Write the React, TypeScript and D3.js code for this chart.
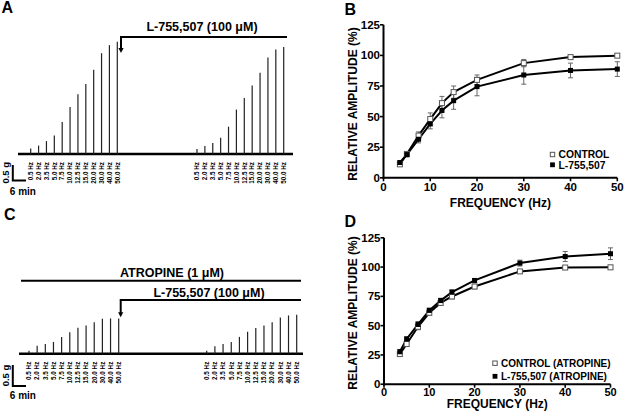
import React from "react";
import * as d3 from "d3";

// ---------- DATA ----------
const freqLabels = ["0.5 Hz", "2.0 Hz", "3.5 Hz", "5.0 Hz", "7.5 Hz", "10.0 Hz", "12.5 Hz", "15.0 Hz", "20.0 Hz", "30.0 Hz", "40.0 Hz", "50.0 Hz"];

// Panel A traces: contraction amplitudes (g)
const aControl = [0.18, 0.28, 0.43, 0.62, 1.07, 1.57, 1.99, 2.33, 2.81, 3.36, 3.63, 3.74];
const aDrug = [0.17, 0.27, 0.37, 0.54, 0.91, 1.48, 1.87, 2.28, 2.71, 3.22, 3.48, 3.57];
// Panel C traces (atropine)
const cControl = [0.07, 0.19, 0.23, 0.28, 0.4, 0.51, 0.62, 0.67, 0.75, 0.83, 0.84, 0.84];
const cDrug = [0.07, 0.18, 0.23, 0.28, 0.4, 0.52, 0.61, 0.67, 0.75, 0.86, 0.91, 0.93];

// Frequency-response curves
const freqs = [3.5, 5, 7.5, 10, 12.5, 15, 20, 30, 40, 50];
const bControl = [11, 19.5, 34.5, 48, 61, 70, 80, 93.7, 98.6, 99.8];
const bControlErr = [1, 1.5, 3, 5, 5.5, 5, 4, 3, 1.2, 0.5];
const bDrug = [12.5, 19, 31.5, 44, 55, 63, 74.5, 84, 87.7, 88.8];
const bDrugErr = [1.5, 2, 3, 4, 6, 7, 7.5, 7.5, 6, 6];
const dControl = [25.7, 34.3, 49, 61, 69.4, 74.9, 83.4, 96.3, 99.6, 99.8];
const dControlErr = [1.5, 2, 2.5, 2, 2, 2, 2, 1.5, 0.8, 0.5];
const dDrug = [27.7, 38.6, 51, 63, 71.4, 78.6, 88.6, 103.4, 109, 111.4];
const dDrugErr = [2, 2, 2.5, 2, 2, 2, 1.5, 2.5, 4.3, 5];
const yTicks = [0, 25, 50, 75, 100, 125];
const xTicks = [0, 10, 20, 30, 40, 50];

const FONT = "'Liberation Sans', Arial, Helvetica, sans-serif";

type TraceProps = {
  baseY: number;
  x0: number;
  x1: number;
  g1: [number, number];
  g2: [number, number];
  h1: number[];
  h2: number[];
  pxPerHalfGram: number;
  labelTop: number;
};

function Trace({ baseY, x0, x1, g1, g2, h1, h2, pxPerHalfGram, labelTop }: TraceProps) {
  const yS = d3.scaleLinear().domain([0, 0.5]).range([baseY, baseY - pxPerHalfGram]);
  const s1 = d3.scalePoint<string>().domain(freqLabels).range(g1);
  const s2 = d3.scalePoint<string>().domain(freqLabels).range(g2);
  const groups = [
    { s: s1, h: h1 },
    { s: s2, h: h2 },
  ];
  return (
    <g>
      <line x1={x0} x2={x1} y1={baseY} y2={baseY} stroke="#000" strokeWidth={2.4} />
      {groups.map((grp, gi) =>
        freqLabels.map((lab, i) => {
          const x = grp.s(lab) as number;
          return (
            <g key={`${gi}-${i}`}>
              <line x1={x} x2={x} y1={baseY} y2={yS(grp.h[i])} stroke="#222" strokeWidth={1.2} />
              <text
                transform={`translate(${x + 2.3},${labelTop}) rotate(-90)`}
                textAnchor="end"
                fontSize={6.3}
                fontWeight="bold"
                fontFamily={FONT}
              >
                {lab}
              </text>
            </g>
          );
        })
      )}
    </g>
  );
}

function ScaleBar({ x, yTop, yBot, xEnd, textY }: { x: number; yTop: number; yBot: number; xEnd: number; textY: number }) {
  return (
    <g fontFamily={FONT} fontWeight="bold">
      <path d={`M${x},${yTop}V${yBot}H${xEnd}`} fill="none" stroke="#000" strokeWidth={2} />
      <text transform={`translate(${x - 4},${(yTop + yBot) / 2}) rotate(-90)`} textAnchor="middle" fontSize={9.5}>
        0.5 g
      </text>
      <text x={x - 3} y={textY} fontSize={10}>
        6 min
      </text>
    </g>
  );
}

function Arrow({ x, yTop, yTip, xEnd }: { x: number; yTop: number; yTip: number; xEnd: number }) {
  return (
    <g>
      <path d={`M${xEnd},${yTop}H${x}V${yTip - 4}`} fill="none" stroke="#000" strokeWidth={2} />
      <path d={`M${x - 2.6},${yTip - 5}L${x + 2.6},${yTip - 5}L${x},${yTip}Z`} fill="#000" />
    </g>
  );
}

type CurveProps = {
  x: d3.ScaleLinear<number, number>;
  y: d3.ScaleLinear<number, number>;
  ctrl: number[];
  ctrlErr: number[];
  drug: number[];
  drugErr: number[];
  legend: [string, string];
  legX: number;
  legY: [number, number];
  legFont: number;
  titleX: number;
  titleY: number;
  xTitleY: number;
  tickLabelDy: number;
  tickFont: number;
};

function Curves({ x, y, ctrl, ctrlErr, drug, drugErr, legend, legX, legY, legFont, titleX, titleY, xTitleY, tickLabelDy, tickFont }: CurveProps) {
  const line = d3
    .line<number>()
    .x((_, i) => x(freqs[i]))
    .y((d) => y(d));
  const [x0, x1] = x.range();
  const [y0, y1] = y.range();
  const ms = 5;
  const errBars = (vals: number[], errs: number[]) =>
    vals.map((v, i) => {
      const cx = x(freqs[i]);
      const hi = y(v + errs[i]);
      const lo = y(v - errs[i]);
      return (
        <g key={i} stroke="#666" strokeWidth={1}>
          <line x1={cx} x2={cx} y1={hi} y2={lo} />
          <line x1={cx - 2.5} x2={cx + 2.5} y1={hi} y2={hi} />
          <line x1={cx - 2.5} x2={cx + 2.5} y1={lo} y2={lo} />
        </g>
      );
    });
  return (
    <g fontFamily={FONT} fontWeight="bold">
      {errBars(ctrl, ctrlErr)}
      {errBars(drug, drugErr)}
      <path d={line(ctrl) || ""} fill="none" stroke="#000" strokeWidth={2} />
      <path d={line(drug) || ""} fill="none" stroke="#000" strokeWidth={2} />
      {ctrl.map((v, i) => (
        <rect key={`c${i}`} x={x(freqs[i]) - ms / 2} y={y(v) - ms / 2} width={ms} height={ms} fill="#fff" stroke="#555" strokeWidth={1} />
      ))}
      {drug.map((v, i) => (
        <rect key={`d${i}`} x={x(freqs[i]) - ms / 2} y={y(v) - ms / 2} width={ms} height={ms} fill="#000" />
      ))}
      {/* axes */}
      <line x1={x0} x2={x0} y1={y0 + 1} y2={y1} stroke="#000" strokeWidth={2} />
      <line x1={x0 - 1} x2={x1} y1={y0} y2={y0} stroke="#000" strokeWidth={2} />
      {yTicks.map((t) => (
        <g key={`yt${t}`}>
          <line x1={x0 - 3.5} x2={x0} y1={y(t)} y2={y(t)} stroke="#000" strokeWidth={1.6} />
          <text x={x0 - 3.5} y={y(t) + 4} textAnchor="end" fontSize={11.5}>
            {t}
          </text>
        </g>
      ))}
      {xTicks.map((t) => (
        <g key={`xt${t}`}>
          <line x1={x(t)} x2={x(t)} y1={y0} y2={y0 + 3.5} stroke="#000" strokeWidth={1.6} />
          <text x={x(t)} y={y0 + tickLabelDy} textAnchor="middle" fontSize={tickFont}>
            {t}
          </text>
        </g>
      ))}
      <text transform={`translate(${titleX},${titleY}) rotate(-90)`} textAnchor="middle" fontSize={12}>
        RELATIVE AMPLITUDE (%)
      </text>
      <text x={(x0 + x1) / 2} y={xTitleY} textAnchor="middle" fontSize={12}>
        FREQUENCY (Hz)
      </text>
      {/* legend */}
      <rect x={legX - 2.2} y={legY[0] - 2.2} width={4.4} height={4.4} fill="#fff" stroke="#555" strokeWidth={1} />
      <text x={legX + 6} y={legY[0] + 3.7} fontSize={legFont}>
        {legend[0]}
      </text>
      <rect x={legX - 2.4} y={legY[1] - 2.4} width={4.8} height={4.8} fill="#000" />
      <text x={legX + 6} y={legY[1] + 3.7} fontSize={legFont}>
        {legend[1]}
      </text>
    </g>
  );
}

export default function App() {
  const xB = d3.scaleLinear().domain([0, 50]).range([383.5, 617.3]);
  const yB = d3.scaleLinear().domain([0, 125]).range([177.8, 24.8]);
  const xD = d3.scaleLinear().domain([0, 50]).range([384, 610.5]);
  const yD = d3.scaleLinear().domain([0, 125]).range([384.2, 237.8]);
  return (
    <svg width={624} height={413} style={{ position: "absolute", left: 0, top: 0, background: "#fff" }}>
      <rect width={624} height={413} fill="#fff" />
      {/* Panel labels */}
      <g fontFamily={FONT} fontWeight="bold" fontSize={16}>
        <text x={1.5} y={12.7}>A</text>
        <text x={344.5} y={15}>B</text>
        <text x={4} y={220}>C</text>
        <text x={344.5} y={226.7}>D</text>
      </g>

      {/* Panel A */}
      <Trace baseY={154} x0={18} x1={293} g1={[30.7, 117.3]} g2={[197, 283.7]} h1={aControl} h2={aDrug} pxPerHalfGram={15} labelTop={162} />
      <Arrow x={121} yTop={37} yTip={53} xEnd={287} />
      <text x={202} y={30.5} textAnchor="middle" fontFamily={FONT} fontWeight="bold" fontSize={12.5}>
        L-755,507 (100 μM)
      </text>
      <ScaleBar x={12.8} yTop={165} yBot={180.5} xEnd={26} textY={195} />

      {/* Panel C */}
      <Trace baseY={353.7} x0={19} x1={303} g1={[29, 118.7]} g2={[206.7, 296.7]} h1={cControl} h2={cDrug} pxPerHalfGram={21} labelTop={361.7} />
      <line x1={21} x2={301} y1={280.7} y2={280.7} stroke="#000" strokeWidth={2} />
      <text x={172} y={277} textAnchor="middle" fontFamily={FONT} fontWeight="bold" fontSize={12.5}>
        ATROPINE (1 μM)
      </text>
      <Arrow x={120.7} yTop={300} yTip={317.3} xEnd={301} />
      <text x={209} y={296.5} textAnchor="middle" fontFamily={FONT} fontWeight="bold" fontSize={12.5}>
        L-755,507 (100 μM)
      </text>
      <ScaleBar x={12.8} yTop={365} yBot={386} xEnd={26} textY={399} />

      {/* Panel B */}
      <Curves
        x={xB}
        y={yB}
        ctrl={bControl}
        ctrlErr={bControlErr}
        drug={bDrug}
        drugErr={bDrugErr}
        legend={["CONTROL", "L-755,507"]}
        legX={552.5}
        legY={[154.5, 164.8]}
        legFont={10.3}
        titleX={356.5}
        titleY={104}
        xTitleY={206.5}
        tickLabelDy={13.5}
        tickFont={11.5}
      />
      {/* Panel D */}
      <Curves
        x={xD}
        y={yD}
        ctrl={dControl}
        ctrlErr={dControlErr}
        drug={dDrug}
        drugErr={dDrugErr}
        legend={["CONTROL (ATROPINE)", "L-755,507 (ATROPINE)"]}
        legX={495}
        legY={[363.2, 376.3]}
        legFont={10}
        titleX={356.5}
        titleY={313}
        xTitleY={408.3}
        tickLabelDy={11.6}
        tickFont={11}
      />
    </svg>
  );
}
